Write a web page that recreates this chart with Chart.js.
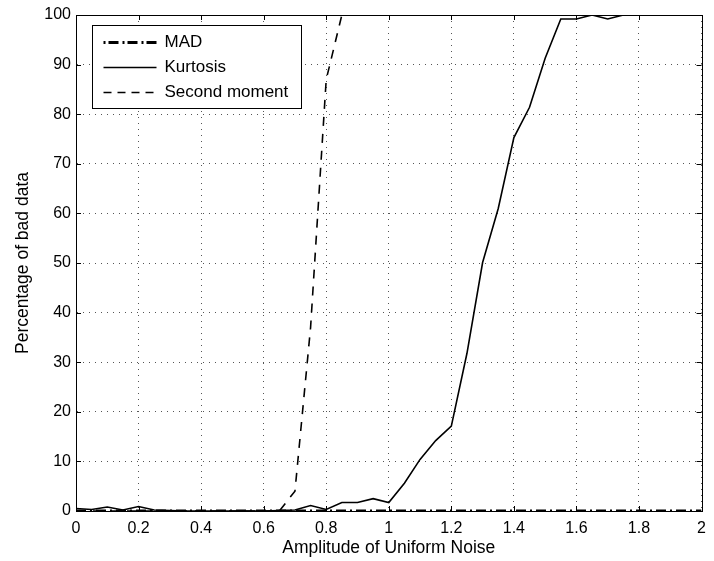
<!DOCTYPE html>
<html>
<head>
<meta charset="utf-8">
<script src="https://cdn.jsdelivr.net/npm/chart.js@4"></script>
<style>
  html, body { margin: 0; padding: 0; background: #fff; }
  canvas { display: block; }
</style>
</head>
<body>
<canvas id="chart" width="714" height="561"></canvas>
<script>
// amplitude of the uniform noise (x axis)
const amplitude = [0, 0.05, 0.1, 0.15, 0.2, 0.25, 0.3, 0.35, 0.4, 0.45, 0.5, 0.55, 0.6, 0.65, 0.7, 0.75, 0.8, 0.85, 0.9, 0.95,
  1, 1.05, 1.1, 1.15, 1.2, 1.25, 1.3, 1.35, 1.4, 1.45, 1.5, 1.55, 1.6, 1.65, 1.7, 1.75, 1.8, 1.85, 1.9, 1.95, 2];

// percentage of bad data per method
const madValues = [0, 0, 0, 0, 0, 0, 0, 0, 0, 0, 0, 0, 0, 0, 0, 0, 0, 0, 0, 0,
  0, 0, 0, 0, 0, 0, 0, 0, 0, 0, 0, 0, 0, 0, 0, 0, 0, 0, 0, 0, 0];
const kurtosisValues = [0.5, 0.3, 0.8, 0.2, 0.9, 0.2, 0.1, 0, 0, 0, 0, 0, 0, 0.1, 0.2, 1.1, 0.3, 1.7, 1.7, 2.5,
  1.7, 5.6, 10.4, 14.2, 17.1, 31.8, 50.1, 61, 75.3, 81.4, 91.3, 99.2, 99.2, 100, 99.2, 100, 100, 100, 100, 100, 100];
const secondMomentValues = [0, 0, 0, 0, 0, 0, 0, 0, 0, 0, 0, 0, 0, 0, 4, 37, 87, 100, 100, 100,
  100, 100, 100, 100, 100, 100, 100, 100, 100, 100, 100, 100, 100, 100, 100, 100, 100, 100, 100, 100, 100];

const xTicks = [0, 0.2, 0.4, 0.6, 0.8, 1, 1.2, 1.4, 1.6, 1.8, 2];
const yTicks = [0, 10, 20, 30, 40, 50, 60, 70, 80, 90, 100];

const FONT = '"Liberation Sans", Arial, Helvetica, sans-serif';
const toPoints = (vals) => vals.map((v, i) => ({x: amplitude[i], y: v}));

// matlab-like frame: box + inward ticks on all sides + legend in the corner
const framePlugin = {
  id: 'frame',
  afterDraw(chart) {
    const {ctx, chartArea: a, scales} = chart;
    ctx.save();
    ctx.strokeStyle = '#000';
    ctx.lineWidth = 1;
    ctx.setLineDash([]);
    ctx.strokeRect(Math.round(a.left) + 0.5, Math.round(a.top) + 0.5,
      Math.round(a.right - a.left), Math.round(a.bottom - a.top));
    const tl = 5;
    ctx.beginPath();
    xTicks.forEach(v => {
      const px = Math.round(scales.x.getPixelForValue(v)) + 0.5;
      ctx.moveTo(px, a.bottom); ctx.lineTo(px, a.bottom - tl);
      ctx.moveTo(px, a.top); ctx.lineTo(px, a.top + tl);
    });
    yTicks.forEach(v => {
      const py = Math.round(scales.y.getPixelForValue(v)) + 0.5;
      ctx.moveTo(a.left, py); ctx.lineTo(a.left + tl, py);
      ctx.moveTo(a.right, py); ctx.lineTo(a.right - tl, py);
    });
    ctx.stroke();

    // legend
    const bx = Math.round(a.left) + 16.5, by = Math.round(a.top) + 10.5;
    const bw = 209, bh = 83;
    ctx.fillStyle = '#fff';
    ctx.fillRect(bx, by, bw, bh);
    ctx.strokeRect(bx, by, bw, bh);
    ctx.font = '17px ' + FONT;
    ctx.textBaseline = 'middle';
    ctx.fillStyle = '#000';
    chart.data.datasets.forEach((ds, i) => {
      const y = by + 17 + i * 25;
      ctx.save();
      ctx.lineWidth = ds.borderWidth;
      ctx.setLineDash(ds.legendDash || ds.borderDash || []);
      ctx.beginPath();
      ctx.moveTo(bx + 11, y);
      ctx.lineTo(bx + 64, y);
      ctx.stroke();
      ctx.restore();
      ctx.fillText(ds.label, bx + 72, y);
    });
    ctx.restore();
  }
};

new Chart(document.getElementById('chart'), {
  type: 'line',
  data: {
    datasets: [
      {label: 'MAD', data: toPoints(madValues), borderColor: '#000', borderWidth: 3,
        borderDash: [10, 4, 2, 4], legendDash: [2, 3, 10, 4], pointRadius: 0, tension: 0},
      {label: 'Kurtosis', data: toPoints(kurtosisValues), borderColor: '#000', borderWidth: 1.6, pointRadius: 0, tension: 0},
      {label: 'Second moment', data: toPoints(secondMomentValues), borderColor: '#000', borderWidth: 1.6,
        borderDash: [9, 8], legendDash: [8, 6], pointRadius: 0, tension: 0}
    ]
  },
  options: {
    responsive: false,
    animation: false,
    layout: {padding: {top: 15, right: 10, left: 0, bottom: 0}},
    plugins: {legend: {display: false}, tooltip: {enabled: false}},
    scales: {
      x: {
        type: 'linear', min: 0, max: 2,
        afterFit: (s) => { s.height = 50; },
        afterBuildTicks: (s) => { s.ticks = xTicks.map(v => ({value: v})); },
        ticks: {color: '#000', font: {family: FONT, size: 16}, padding: 8, maxRotation: 0,
          callback: (v) => String(v)},
        grid: {color: '#555', lineWidth: 1, drawTicks: false},
        border: {display: true, color: '#000', width: 1, dash: [1, 5]},
        title: {display: true, text: 'Amplitude of Uniform Noise', color: '#000',
          font: {family: FONT, size: 17.5}, padding: {top: 0, bottom: 2}}
      },
      y: {
        type: 'linear', min: 0, max: 100,
        afterFit: (s) => { s.width = 76; },
        afterBuildTicks: (s) => { s.ticks = yTicks.map(v => ({value: v})); },
        ticks: {color: '#000', font: {family: FONT, size: 16}, padding: 5},
        grid: {color: '#555', lineWidth: 1, drawTicks: false},
        border: {display: true, color: '#000', width: 1, dash: [1, 5]},
        title: {display: true, text: 'Percentage of bad data', color: '#000',
          font: {family: FONT, size: 17.5}, padding: {top: 13, bottom: 0}}
      }
    }
  },
  plugins: [framePlugin]
});
</script>
</body>
</html>
